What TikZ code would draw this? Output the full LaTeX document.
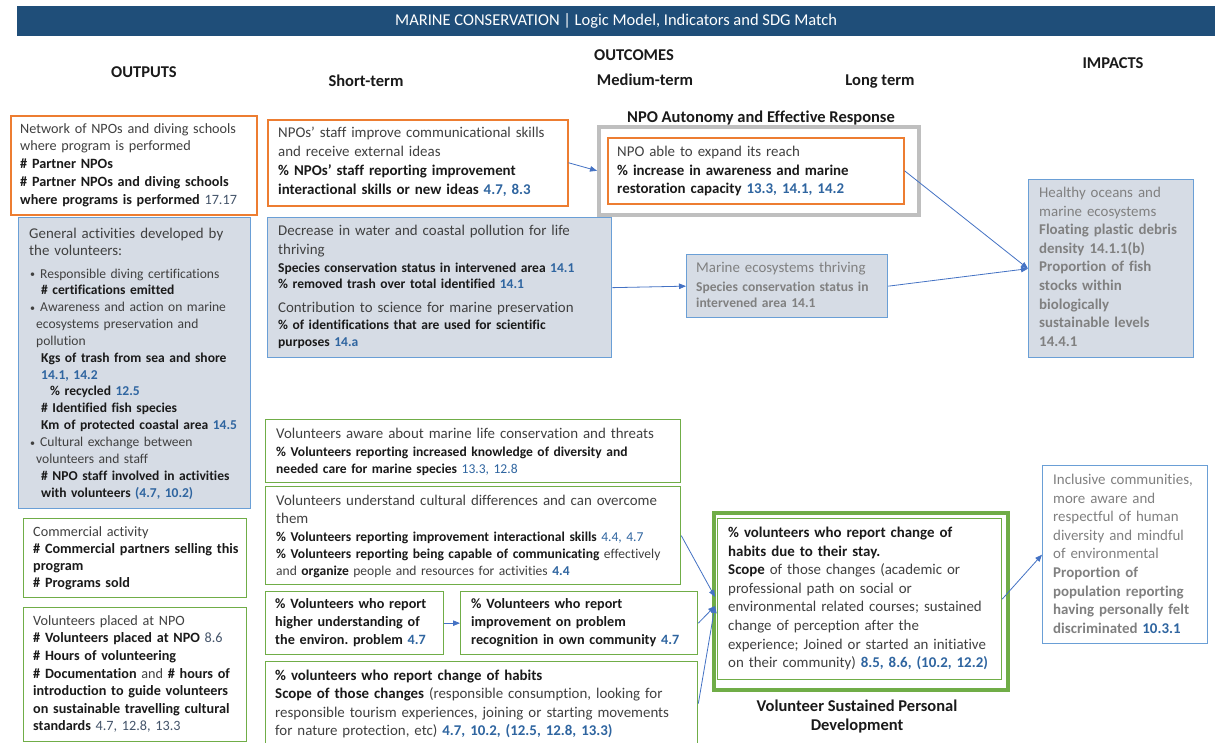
\documentclass[tikz,border=0pt]{standalone}
\usepackage{fontspec}
\setmainfont{Carlito}[Ligatures={NoCommon}]
\usetikzlibrary{arrows.meta}
\frenchspacing

\definecolor{titlebar}{HTML}{1F4E79}
\definecolor{orng}{HTML}{ED7D31}
\definecolor{bluebd}{HTML}{6A9FD6}
\definecolor{bluefill}{HTML}{D6DCE5}
\definecolor{grn}{HTML}{70AD47}
\definecolor{graybd}{HTML}{BFBFBF}
\definecolor{bodyc}{HTML}{404040}
\definecolor{ink}{HTML}{1A1A1A}
\definecolor{faded}{HTML}{808080}
\definecolor{sdgc}{HTML}{2F65A0}
\definecolor{sdgg}{HTML}{44546A}
\definecolor{arrowc}{HTML}{4472C4}

\newcommand\fsz[2]{\fontsize{#1}{#2}\selectfont}
\newcommand\bk[1]{\textcolor{ink}{\textbf{#1}}}
\newcommand\sdg[1]{\textcolor{sdgc}{#1}}
\newcommand\sdgb[1]{\textcolor{sdgc}{\textbf{#1}}}
\newcommand\bul{\makebox[10pt][l]{\raisebox{0.5pt}{\fontsize{10}{10}\selectfont •}}}
% text sizes
\newcommand\szL{\fsz{14.9}}
\newcommand\szM{\fsz{14.2}}
\newcommand\szS{\fsz{13.55}}

\begin{document}
\begin{tikzpicture}[x=1pt,y=-1pt,
  frame/.style={draw, inner sep=0pt, anchor=north west},
  obox/.style={frame, draw=orng, line width=1.5pt, fill=white},
  bbox/.style={frame, draw=bluebd, line width=1.3pt, fill=bluefill},
  wbbox/.style={frame, draw=bluebd, line width=1.3pt, fill=white},
  gbox/.style={frame, draw=grn, line width=1.3pt, fill=white},
  txt/.style={inner sep=0pt, anchor=base west, align=left, text width=430pt, text=bodyc},
  ftxt/.style={txt, text=faded},
  head/.style={inner sep=0pt, anchor=base, font=\fsz{16.5}{20}\bfseries, text=ink},
  arr/.style={draw=arrowc, line width=0.8pt, -{Triangle[length=7pt,width=5.5pt]}}]

\useasboundingbox (0,0) rectangle (1215,742);
\fill[white] (0,0) rectangle (1215,742);

% title bar
\node[fill=titlebar, inner sep=0pt, minimum width=1198pt, minimum height=30pt,
      anchor=north west, text=white, font=\fsz{16.5}{20}] (title) at (17,6)
  {MARINE CONSERVATION | Logic Model, Indicators and SDG Match};

% column headings
\node[head] (hout)  at (144,77.4)  {OUTPUTS};
\node[head] (hoc)   at (634,60.4)  {OUTCOMES};
\node[head] (hst)   at (366,86)    {Short-term};
\node[head] (hmt)   at (645,85)    {Medium-term};
\node[head] (hlt)   at (880,85)    {Long term};
\node[head] (himp)  at (1113,68.4) {IMPACTS};

% ---------------- outputs ----------------
\node[obox, minimum width=246pt, minimum height=99pt] (net) at (10,115) {};
\node[txt, font=\szM{17.7}] (nett) at (20,133.2)
  {Network of NPOs and diving schools\\
   where program is performed\\
   \bk{\# Partner NPOs}\\
   \bk{\# Partner NPOs and diving schools}\\
   \bk{where programs is performed} \textcolor{sdgg}{17.17}};

\node[bbox, minimum width=232pt, minimum height=291pt] (gen) at (18,217) {};
\node[txt, font=\szL{17}] (gent1) at (29,238.5)
  {General activities developed by\\ the volunteers:};
\node[txt, font=\szS{16.85}] (gent2) at (30,278)
  {\bul Responsible diving certifications\\
   \hspace*{11pt}\bk{\# certifications emitted}\\
   \bul Awareness and action on marine\\
   \hspace*{6pt}ecosystems preservation and\\
   \hspace*{6pt}pollution\\
   \hspace*{11pt}\bk{Kgs of trash from sea and shore}\\
   \hspace*{11pt}\sdgb{14.1, 14.2}\\
   \hspace*{20pt}\bk{\% recycled} \sdgb{12.5}\\
   \hspace*{11pt}\bk{\# Identified fish species}\\
   \hspace*{11pt}\bk{Km of protected coastal area} \sdgb{14.5}\\
   \bul Cultural exchange between\\
   \hspace*{6pt}volunteers and staff\\
   \hspace*{11pt}\bk{\# NPO staff involved in activities}\\
   \hspace*{11pt}\bk{with volunteers} \sdgb{(4.7, 10.2)}};

\node[gbox, minimum width=223pt, minimum height=79pt] (com) at (23,518) {};
\node[txt, font=\szM{17}] (comt) at (33,536.2)
  {Commercial activity\\
   \bk{\# Commercial partners selling this}\\
   \bk{program}\\
   \bk{\# Programs sold}};

\node[gbox, minimum width=223pt, minimum height=134pt] (vol) at (23,607) {};
\node[txt, font=\szM{17.6}] (volt) at (33,625.2)
  {Volunteers placed at NPO\\
   \bk{\# Volunteers placed at NPO} \textcolor{sdgg}{8.6}\\
   \bk{\# Hours of volunteering}\\
   \bk{\# Documentation} and \bk{\# hours of}\\
   \bk{introduction to guide volunteers}\\
   \bk{on sustainable travelling cultural}\\
   \bk{standards} \textcolor{sdgg}{4.7, 12.8, 13.3}};

% ---------------- short-term outcomes ----------------
\node[obox, minimum width=300pt, minimum height=86pt] (staff) at (267,119) {};
\node[txt, font=\szL{19}] (stafft) at (278,137.5)
  {NPOs’ staff improve communicational skills\\
   and receive external ideas\\
   \bk{\% NPOs’ staff reporting improvement}\\
   \bk{interactional skills or new ideas} \sdgb{4.7, 8.3}};

\node[bbox, minimum width=344pt, minimum height=140pt] (dec) at (267,217) {};
\node[txt, font=\szL{19}] (dect1) at (278,235.5)
  {Decrease in water and coastal pollution for life\\ thriving};
\node[txt, font=\szS{16.5}] (dect2) at (278,272)
  {\bk{Species conservation status in intervened area} \sdgb{14.1}\\
   \bk{\% removed trash over total identified} \sdgb{14.1}};
\node[txt, font=\szL{19}] (dect3) at (278,312.5)
  {Contribution to science for marine preservation};
\node[txt, font=\szS{17}] (dect4) at (278,329)
  {\bk{\% of identifications that are used for scientific}\\
   \bk{purposes} \sdgb{14.a}};

\node[gbox, minimum width=415pt, minimum height=63pt] (aw) at (265,419) {};
\node[txt, font=\szL{19}] (awt1) at (276,438.5)
  {Volunteers aware about marine life conservation and threats};
\node[txt, font=\szS{17.5}] (awt2) at (276,456)
  {\bk{\% Volunteers reporting increased knowledge of diversity and}\\
   \bk{needed care for marine species} \sdg{13.3, 12.8}};

\node[gbox, minimum width=415pt, minimum height=98pt] (und) at (265,486) {};
\node[txt, font=\szL{17.5}] (undt1) at (276,505.5)
  {Volunteers understand cultural differences and can overcome\\ them};
\node[txt, font=\szS{17}] (undt2) at (276,541)
  {\bk{\% Volunteers reporting improvement interactional skills} \sdg{4.4, 4.7}\\
   \bk{\% Volunteers reporting being capable of communicating} effectively\\
   and \bk{organize} people and resources for activities \sdgb{4.4}};

\node[gbox, minimum width=178pt, minimum height=63pt] (higher) at (265,591) {};
\node[txt, font=\szM{18}] (higt) at (275,608.2)
  {\bk{\% Volunteers who report}\\
   \bk{higher understanding of}\\
   \bk{the environ. problem} \sdgb{4.7}};

\node[gbox, minimum width=237pt, minimum height=63pt] (imp) at (460,591) {};
\node[txt, font=\szM{18}] (impt) at (471,608.2)
  {\bk{\% Volunteers who report}\\
   \bk{improvement on problem}\\
   \bk{recognition in own community} \sdgb{4.7}};

\node[gbox, minimum width=432pt, minimum height=84pt] (chg) at (265,661) {};
\node[txt, font=\szL{18.3}] (chgt) at (275,680.5)
  {\bk{\% volunteers who report change of habits}\\
   \bk{Scope of those changes} (responsible consumption, looking for\\
   responsible tourism experiences, joining or starting movements\\
   for nature protection, etc) \sdgb{4.7, 10.2, (12.5, 12.8, 13.3)}};

% ---------------- medium-term outcomes ----------------
\node[head] (autol) at (761,122) {NPO Autonomy and Effective Response};
\node[frame, draw=graybd, line width=3.5pt, fill=white,
      minimum width=320pt, minimum height=88pt] (auto) at (597,125) {};
\node[obox, minimum width=296pt, minimum height=66pt] (reach) at (607,137) {};
\node[txt, font=\szL{18.5}] (reacht) at (617,156.5)
  {NPO able to expand its reach\\
   \bk{\% increase in awareness and marine}\\
   \bk{restoration capacity} \sdgb{13.3, 14.1, 14.2}};

\node[bbox, minimum width=201pt, minimum height=63pt] (mar) at (686,254) {};
\node[ftxt, font=\szL{19}] (mart1) at (696,272.5)
  {Marine ecosystems thriving};
\node[ftxt, font=\szS{16.5}\bfseries] (mart2) at (696,291)
  {Species conservation status in\\ intervened area 14.1};

% ---------------- long-term outcome ----------------
\node[frame, draw=grn, line width=4pt, fill=white,
      minimum width=294pt, minimum height=177pt] (longo) at (712,511) {};
\node[frame, draw=grn, line width=1.2pt,
      minimum width=284pt, minimum height=161pt] (longi) at (717,518) {};
\node[txt, font=\szL{18.6}] (longt) at (728,537.5)
  {\bk{\% volunteers who report change of}\\
   \bk{habits due to their stay.}\\
   \bk{Scope} of those changes (academic or\\
   professional path on social or\\
   environmental related courses; sustained\\
   change of perception after the\\
   experience; Joined or started an initiative\\
   on their community) \sdgb{8.5, 8.6, (10.2, 12.2)}};
\node[head] (capt1) at (857,711) {Volunteer Sustained Personal};
\node[head] (capt2) at (857,730) {Development};

% ---------------- impacts ----------------
\node[bbox, minimum width=165pt, minimum height=178pt] (heal) at (1028,179) {};
\node[ftxt, font=\szL{18.6}] (healt) at (1039,197.5)
  {Healthy oceans and\\
   marine ecosystems\\
   \textbf{Floating plastic debris}\\
   \textbf{density 14.1.1(b)}\\
   \textbf{Proportion of fish}\\
   \textbf{stocks within}\\
   \textbf{biologically}\\
   \textbf{sustainable levels}\\
   \textbf{14.4.1}};

\node[wbbox, minimum width=165pt, minimum height=178pt] (inc) at (1042,465) {};
\node[ftxt, font=\szL{18.6}] (inct) at (1053,484.5)
  {Inclusive communities,\\
   more aware and\\
   respectful of human\\
   diversity and mindful\\
   of environmental\\
   \textbf{Proportion of}\\
   \textbf{population reporting}\\
   \textbf{having personally felt}\\
   \textbf{discriminated} \sdgb{10.3.1}};

% ---------------- connectors ----------------
\draw[arr] (staff.east) -- (auto.west);
\draw[arr] (reach.east) -- (heal.west);
\draw[arr] (dec.east) -- (mar.west);
\draw[arr] (mar.east) -- (heal.west);
\draw[arr] (higher.east) -- (imp.west);
\draw[arr] (und.east) -- ([xshift=3pt,yshift=4.5pt]longo.west);
\draw[arr] (imp.east) -- ([xshift=3pt,yshift=-4.5pt]longo.west);
\draw[arr] (chg.east) -- ([xshift=3pt,yshift=-4.5pt]longo.west);
\draw[arr] (longi.east) -- (inc.west);
\end{tikzpicture}
\end{document}
